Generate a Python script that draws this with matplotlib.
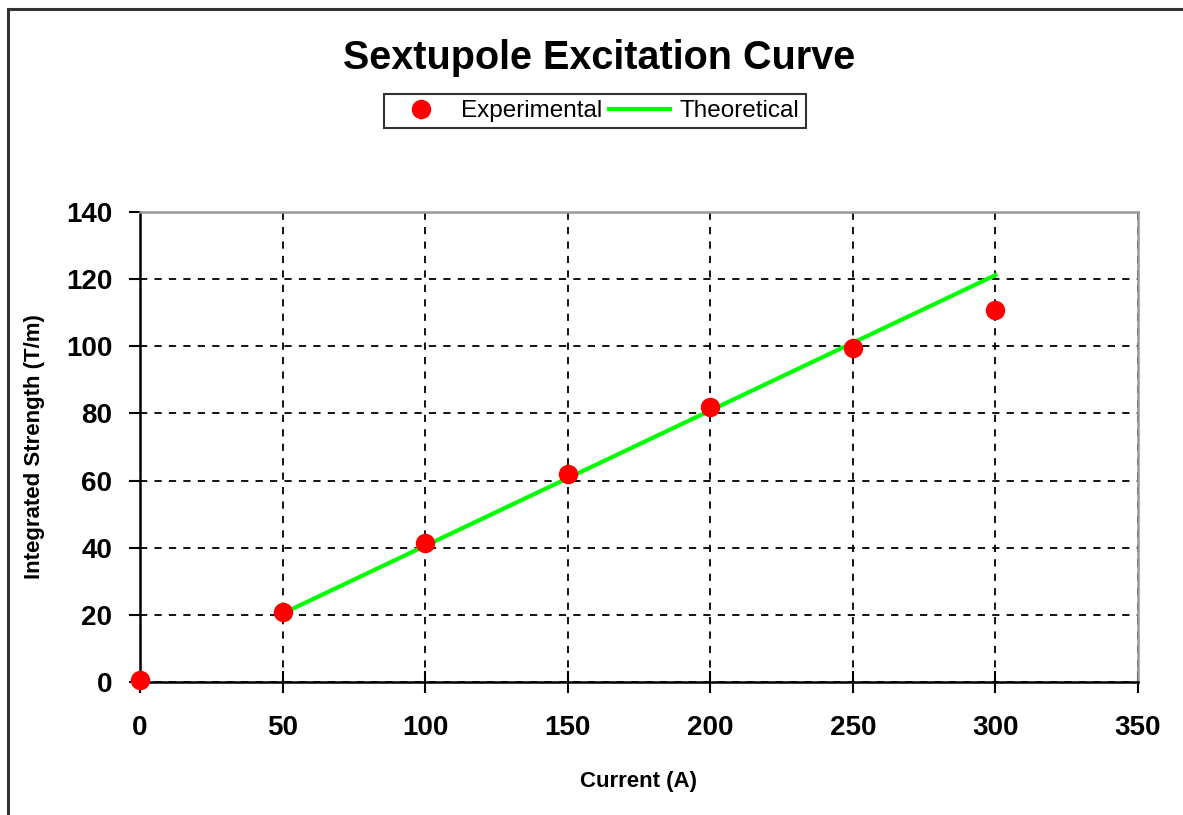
import matplotlib.pyplot as plt
from matplotlib.patches import Rectangle

current_exp = [0, 50, 100, 150, 200, 250, 300]
strength_exp = [0.6, 21.0, 41.3, 62.0, 81.8, 99.6, 110.8]

current_theory = [50, 300]
strength_theory = [20.4, 121.2]

x_ticks = [0, 50, 100, 150, 200, 250, 300, 350]
y_ticks = [0, 20, 40, 60, 80, 100, 120, 140]

plt.rcParams['font.family'] = ['Liberation Sans', 'DejaVu Sans']

W, H = 1183, 815
fig = plt.figure(figsize=(W / 100, H / 100), dpi=100)
ax = fig.add_axes([140 / W, (H - 682) / H, (1138 - 140) / W, (682 - 212) / H])

# outer chart frame (runs off the right/bottom edge like the original)
fig.patches.append(Rectangle((8 / W, -0.05), 1.2, 1 - 9 / H + 0.05,
                             transform=fig.transFigure, fill=False,
                             edgecolor='#333333', linewidth=2.2))

ax.plot(current_theory, strength_theory, color='#00ff00', linewidth=3,
        label='Theoretical', zorder=3)
ax.plot(current_exp, strength_exp, linestyle='none', marker='o',
        markersize=13, color='#ff0000', label='Experimental', zorder=4,
        clip_on=False)

ax.set_xlim(0, 350)
ax.set_ylim(0, 140)
ax.set_xticks(x_ticks)
ax.set_yticks(y_ticks)
ax.grid(True, color='black', linestyle=(0, (4, 4)), linewidth=1.3)
ax.set_axisbelow(True)

for lab in ax.get_xticklabels() + ax.get_yticklabels():
    lab.set_fontweight('bold')
    lab.set_fontsize(20)
ax.tick_params(axis='x', direction='inout', length=16, width=1.5, pad=16)
ax.tick_params(axis='y', direction='out', length=8, width=1.5, pad=12)

ax.spines['left'].set_linewidth(1.8)
ax.spines['bottom'].set_linewidth(1.8)
ax.spines['top'].set_color('#999999')
ax.spines['right'].set_color('#999999')
ax.spines['top'].set_linewidth(1.8)
ax.spines['right'].set_linewidth(1.8)

ax.set_xlabel('Current (A)', fontsize=16, fontweight='bold', labelpad=21)
ax.set_ylabel('Integrated Strength (T/m)', fontsize=16, fontweight='bold', labelpad=15)

fig.text(599 / W, 1 - 58 / H, 'Sextupole Excitation Curve', ha='center',
         va='center', fontsize=28.5, fontweight='bold')

handles, labels = ax.get_legend_handles_labels()
leg = fig.legend(handles[::-1], labels[::-1], loc='center',
                 bbox_to_anchor=(595 / W, 1 - 111 / H), ncol=2, fontsize=17.5,
                 frameon=True, fancybox=False, edgecolor='black',
                 handlelength=2.5, columnspacing=0.3, handletextpad=0.4,
                 borderpad=0.25)
leg.get_frame().set_linewidth(1.5)

fig.savefig('out.png', dpi=100, facecolor='white')
